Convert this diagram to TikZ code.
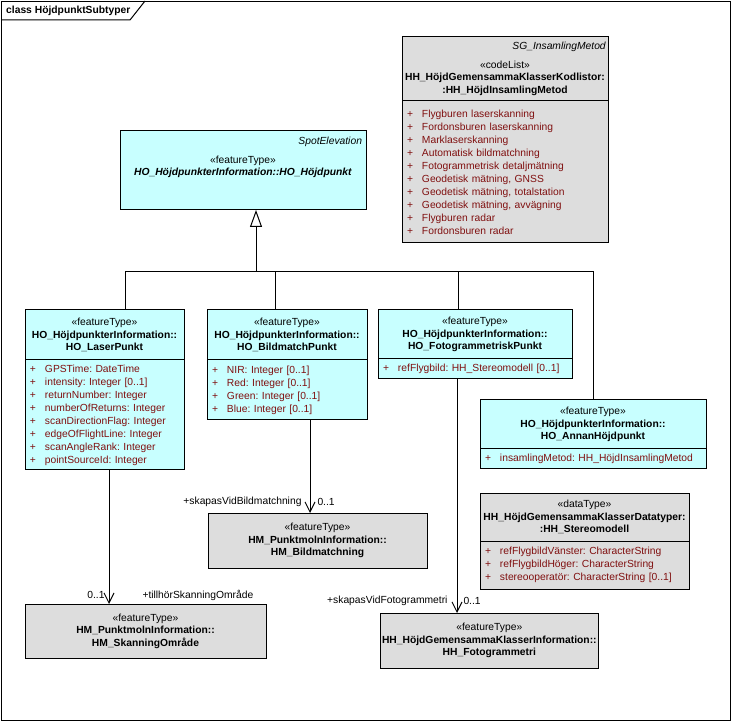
\documentclass[tikz,border=0pt]{standalone}
\usepackage{fontspec}
\setmainfont{Liberation Sans}
\usepackage{xcolor}
\usepackage{tikz}
\usetikzlibrary{calc, arrows.meta, positioning}
\definecolor{featcyan}{RGB}{200,255,255}
\definecolor{extgray}{RGB}{221,221,221}
\definecolor{attrred}{RGB}{128,16,16}
\newcommand{\plus}{\makebox[15pt][l]{+}}
\frenchspacing

\begin{document}
\begin{tikzpicture}[
        x = 1pt, y = -1pt,
        font = \fontsize{10.3}{12.5}\selectfont,
        umlbox/.style = {draw=black, line width=1pt, inner sep=2pt, outer sep=0pt, align=center, anchor=north west},
        featbox/.style = {umlbox, fill=featcyan},
        extbox/.style = {umlbox, fill=extgray},
        attrs/.style = {umlbox, inner xsep=5pt, inner ysep=0pt, align=left, text=attrred, font=\fontsize{10.3}{13}\selectfont},
        role/.style = {inner sep=0pt, pos=1},
        conn/.style = {draw=black, line width=1pt},
        assoc/.style = {conn, -{Straight Barb[length=10pt, width=10pt]}},
        inherit/.style = {conn, -{Triangle[open, length=17pt, width=12pt, fill=white]}}
    ]
        \useasboundingbox (0,0) rectangle (732,722);

        % Diagram frame
        \node (frame) [draw=black, line width=1pt, fill=white, inner sep=0pt, minimum width=729, minimum height=719, anchor=north west] at (1,1) {};
        \node (title) [anchor=west, inner sep=0pt, font=\fontsize{10.3}{12.5}\selectfont\bfseries] at (6,11) {class HöjdpunktSubtyper};
        \draw [conn] (1,20) -- (130,20) -- (145,1);

        % Supertype
        \node (spot) [featbox, minimum width=246, minimum height=79] at (120,131) {};
        \node (spottxt) [anchor=north, inner sep=0pt, text width=238, align=center] at ([yshift=-6]spot.north) {\hfill\textit{SpotElevation}\hspace*{4pt}\\[6pt]«featureType»\\\textbf{\textit{HO\_HöjdpunkterInformation::HO\_Höjdpunkt}}};

        % Code list
        \node (kod) [extbox, minimum width=206, minimum height=64, text width=202] at (402,37) {\hfill\textit{SG\_InsamlingMetod}\hspace*{4pt}\\[6pt]«codeList»\\\textbf{HH\_HöjdGemensammaKlasserKodlistor:}\\\textbf{:HH\_HöjdInsamlingMetod}};
        \node (kodA) [attrs, fill=extgray, text width=196, minimum height=142, below=0pt of kod] {
            \plus Flygburen laserskanning\\
            \plus Fordonsburen laserskanning\\
            \plus Marklaserskanning\\
            \plus Automatisk bildmatchning\\
            \plus Fotogrammetrisk detaljmätning\\
            \plus Geodetisk mätning, GNSS\\
            \plus Geodetisk mätning, totalstation\\
            \plus Geodetisk mätning, avvägning\\
            \plus Flygburen radar\\
            \plus Fordonsburen radar
        };

        % Subtypes
        \node (laser) [featbox, minimum width=159, minimum height=50] at (25,310) {«featureType»\\\textbf{HO\_HöjdpunkterInformation::}\\\textbf{HO\_LaserPunkt}};
        \node (laserA) [attrs, fill=featcyan, text width=149, minimum height=110, below=0pt of laser] {
            \plus GPSTime: DateTime\\
            \plus intensity: Integer [0..1]\\
            \plus returnNumber: Integer\\
            \plus numberOfReturns: Integer\\
            \plus scanDirectionFlag: Integer\\
            \plus edgeOfFlightLine: Integer\\
            \plus scanAngleRank: Integer\\
            \plus pointSourceId: Integer
        };
        \node (bild) [featbox, minimum width=160, minimum height=50, right=23pt of laser.north east, anchor=north west] {«featureType»\\\textbf{HO\_HöjdpunkterInformation::}\\\textbf{HO\_BildmatchPunkt}};
        \node (bildA) [attrs, fill=featcyan, text width=150, minimum height=60, below=0pt of bild] {
            \plus NIR: Integer [0..1]\\
            \plus Red: Integer [0..1]\\
            \plus Green: Integer [0..1]\\
            \plus Blue: Integer [0..1]
        };
        \node (foto) [featbox, minimum width=194, minimum height=49, right=11pt of bild.north east, anchor=north west] {«featureType»\\\textbf{HO\_HöjdpunkterInformation::}\\\textbf{HO\_FotogrammetriskPunkt}};
        \node (fotoA) [attrs, fill=featcyan, text width=184, minimum height=20, below=0pt of foto] {\plus refFlygbild: HH\_Stereomodell [0..1]};
        \node (annan) [featbox, minimum width=226, minimum height=49] at (480,400) {«featureType»\\\textbf{HO\_HöjdpunkterInformation::}\\\textbf{HO\_AnnanHöjdpunkt}};
        \node (annanA) [attrs, fill=featcyan, text width=216, minimum height=20, below=0pt of annan] {\plus insamlingMetod: HH\_HöjdInsamlingMetod};

        % Data type
        \node (stereo) [extbox, minimum width=209, minimum height=48, below=24pt of annanA.south west, anchor=north west] {«dataType»\\\textbf{HH\_HöjdGemensammaKlasserDatatyper:}\\\textbf{:HH\_Stereomodell}};
        \node (stereoA) [attrs, fill=extgray, text width=199, minimum height=48, below=0pt of stereo] {
            \plus refFlygbildVänster: CharacterString\\
            \plus refFlygbildHöger: CharacterString\\
            \plus stereooperatör: CharacterString [0..1]
        };

        % Referenced classes
        \node (bildm) [extbox, minimum width=219, minimum height=55] at (208,513) {«featureType»\\\textbf{HM\_PunktmolnInformation::}\\\textbf{HM\_Bildmatchning}};
        \node (skan) [extbox, minimum width=241, minimum height=54] at (25,604) {«featureType»\\\textbf{HM\_PunktmolnInformation::}\\\textbf{HM\_SkanningOmråde}};
        \node (fotom) [extbox, minimum width=218, minimum height=55] at (380,613) {«featureType»\\\textbf{HH\_HöjdGemensammaKlasserInformation::}\\\textbf{HH\_Fotogrammetri}};

        % Generalization
        \coordinate (gen) at (256,272);
        \draw [inherit] (gen) -- (gen |- spot.south);
        \draw [conn] ([xshift=100]laser.north west) |- (gen);
        \draw [conn] ([xshift=68]bild.north west) |- (gen);
        \draw [conn] ([xshift=80]foto.north west) |- (gen);
        \draw [conn] (annan.north) |- (gen);

        % Associations
        \draw [assoc] ([xshift=84]laserA.south west) -- ([xshift=84]skan.north west)
            node [role, anchor=east, xshift=-4, yshift=9] {0..1}
            node [role, anchor=west, xshift=33, yshift=9] {+tillhörSkanningOmråde};
        \draw [assoc] ([xshift=103]bildA.south west) -- ([xshift=102]bildm.north west)
            node [role, anchor=east, xshift=-8, yshift=11] {+skapasVidBildmatchning}
            node [role, anchor=west, xshift=7, yshift=11] {0..1};
        \draw [assoc] ([xshift=79]fotoA.south west) -- ([xshift=77]fotom.north west)
            node [role, anchor=east, xshift=-9, yshift=12] {+skapasVidFotogrammetri}
            node [role, anchor=west, xshift=6, yshift=12] {0..1};

    \end{tikzpicture}
\end{document}
